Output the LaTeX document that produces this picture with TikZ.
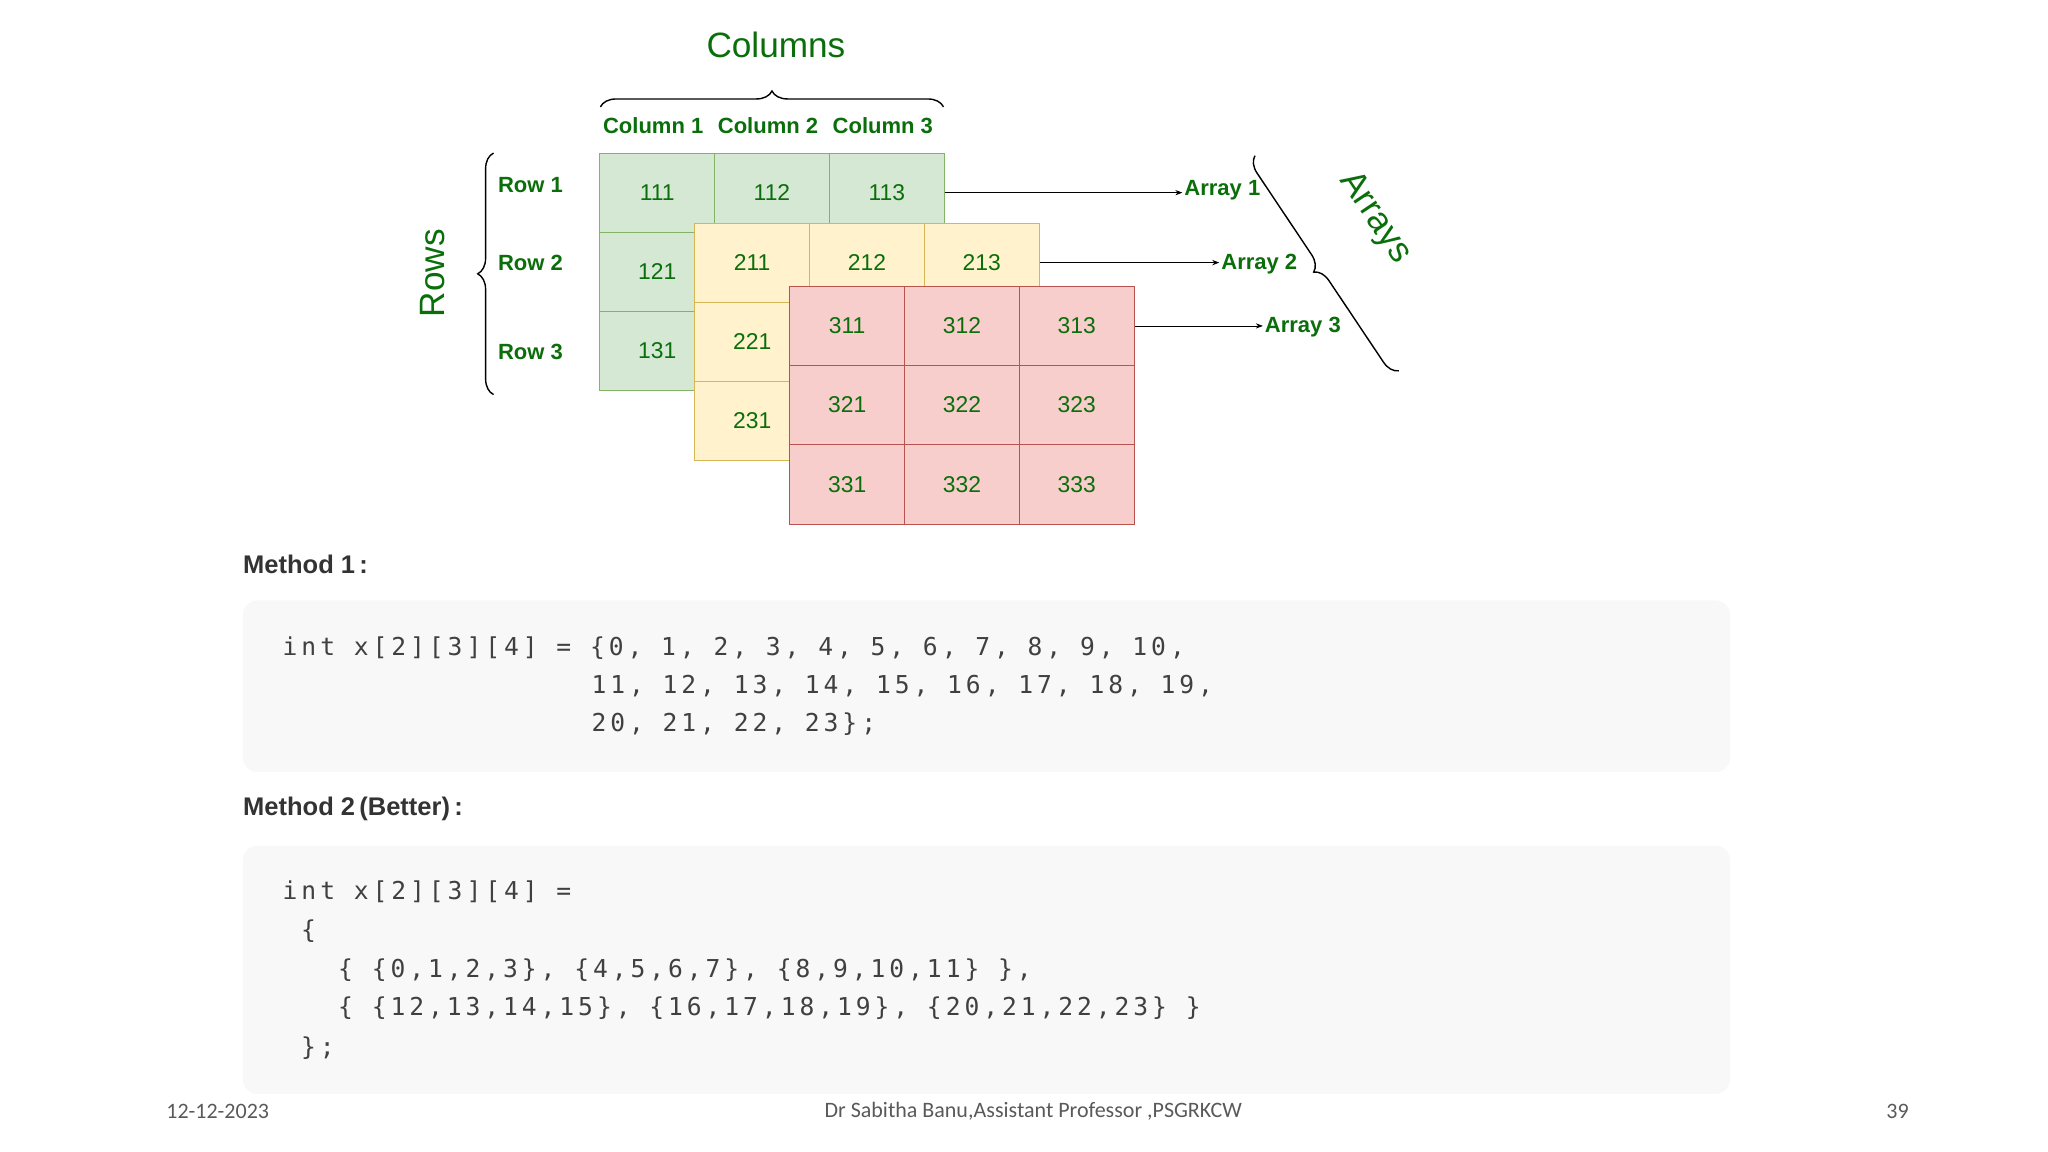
\documentclass[tikz,border=0pt]{standalone}
\usepackage{fontspec}
\setmainfont{Liberation Sans}
\newfontfamily\codefont[LetterSpace=16]{DejaVu Sans Mono}
\newfontfamily\footfont{Carlito}
\usetikzlibrary{decorations.pathreplacing,arrows.meta}
\definecolor{gfgreen}{RGB}{10,110,10}
\definecolor{cellgreen}{RGB}{213,232,212}
\definecolor{cellyellow}{RGB}{255,242,204}
\definecolor{cellred}{RGB}{248,206,204}
\definecolor{edgegreen}{RGB}{130,179,102}
\definecolor{edgeyellow}{RGB}{214,182,86}
\definecolor{edgered}{RGB}{184,84,80}
\definecolor{codebg}{RGB}{248,248,248}
\tikzset{
  cell/.style = {rectangle, draw, minimum width=87*0.75pt, minimum height=60*0.75pt,
                 inner sep=0pt, text=gfgreen, font=\fontsize{13}{15}\selectfont},
  lab/.style = {text=gfgreen, font=\fontsize{12.5}{14}\selectfont\bfseries},
  code/.style = {anchor=west, inner sep=0pt, text=black!75, font=\fontsize{14}{16}\codefont},
  head/.style = {anchor=west, inner sep=0pt, text=black!80, font=\fontsize{14.5}{16}\selectfont\bfseries},
  foot/.style = {text=black!65, font=\fontsize{12.5}{14}\footfont},
  brc/.style = {decorate, decoration={brace, amplitude=9pt}, thick}
}
\begin{document}
\begin{tikzpicture}[x=0.75pt, y=-0.75pt]
\useasboundingbox (0,0) rectangle (1552,873);
% green layer
\foreach \r in {1,2,3}
	\foreach \c in {1,2,3}
		\node[cell, fill=cellgreen, draw=edgegreen] (g\r\c) at (498+87*\c-87, 146+60*\r-60) {1\r\c};
% yellow layer
\foreach \r in {1,2,3}
	\foreach \c in {1,2,3}
		\node[cell, fill=cellyellow, draw=edgeyellow] (y\r\c) at (570+87*\c-87, 199+60*\r-60) {2\r\c};
% red layer
\foreach \r in {1,2,3}
	\foreach \c in {1,2,3}
		\node[cell, fill=cellred, draw=edgered] (p\r\c) at (642+87*\c-87, 247+60*\r-60) {3\r\c};

% column labels
\node[lab] (col1) at (495,95) {Column 1};
\node[lab] (col2) at (582,95) {Column 2};
\node[lab] (col3) at (669,95) {Column 3};
\draw[brc] (455,81) -- (715,81);
\node[text=gfgreen, font=\fontsize{20}{22}\selectfont] (cols) at (588,34) {Columns};

% row labels
\node[lab] (row1) at (402,140) {Row 1};
\node[lab] (row2) at (402,199) {Row 2};
\node[lab] (row3) at (402,267) {Row 3};
\draw[brc] (374,299) -- (374,116);
\node[text=gfgreen, rotate=90, font=\fontsize{20}{22}\selectfont] (rows) at (328,207) {Rows};

% arrays
\node[lab, anchor=west, inner sep=1pt] (arr1) at (896,144) {Array 1};
\node[lab, anchor=west, inner sep=1pt] (arr2) at (924,200) {Array 2};
\node[lab, anchor=west, inner sep=1pt] (arr3) at (957,248) {Array 3};
\draw[-{Stealth[length=4pt]}] (g13.east |- 0,146) -- (arr1.west |- 0,146);
\draw[-{Stealth[length=4pt]}] (y13.east) -- (arr2.west |- y13.east);
\draw[-{Stealth[length=4pt]}] (p13.east) -- (arr3.west |- p13.east);
\draw[brc] (1060,281) -- (951,118);
\node[text=gfgreen, rotate=-56, font=\fontsize{20}{22}\selectfont] (arrs) at (1042,165) {Arrays};

% method 1
\node[head] (m1) at (184,428) {Method 1\,:};
\fill[codebg, rounded corners=8pt] (184,455) rectangle (1311,585);
\node[code] (c11) at (214,491) {int x[2][3][4] = \{0, 1, 2, 3, 4, 5, 6, 7, 8, 9, 10,};
\node[code] (c12) at (448,520) {11, 12, 13, 14, 15, 16, 17, 18, 19,};
\node[code] (c13) at (448,549) {20, 21, 22, 23\};};

% method 2
\node[head] (m2) at (184,613) {Method 2\,(Better)\,:};
\fill[codebg, rounded corners=8pt] (184,641) rectangle (1311,829);
\node[code] (c21) at (214,676) {int x[2][3][4] =};
\node[code] (c22) at (228,706) {\{};
\node[code] (c23) at (256,735) {\{ \{0,1,2,3\}, \{4,5,6,7\}, \{8,9,10,11\} \},};
\node[code] (c24) at (256,764) {\{ \{12,13,14,15\}, \{16,17,18,19\}, \{20,21,22,23\} \}};
\node[code] (c25) at (228,794) {\};};

% footer
\node[foot] (date) at (165,842) {12-12-2023};
\node[foot] (auth) at (783,842) {Dr Sabitha Banu,Assistant Professor ,PSGRKCW};
\node[foot] (page) at (1438,842) {39};
\end{tikzpicture}
\end{document}
